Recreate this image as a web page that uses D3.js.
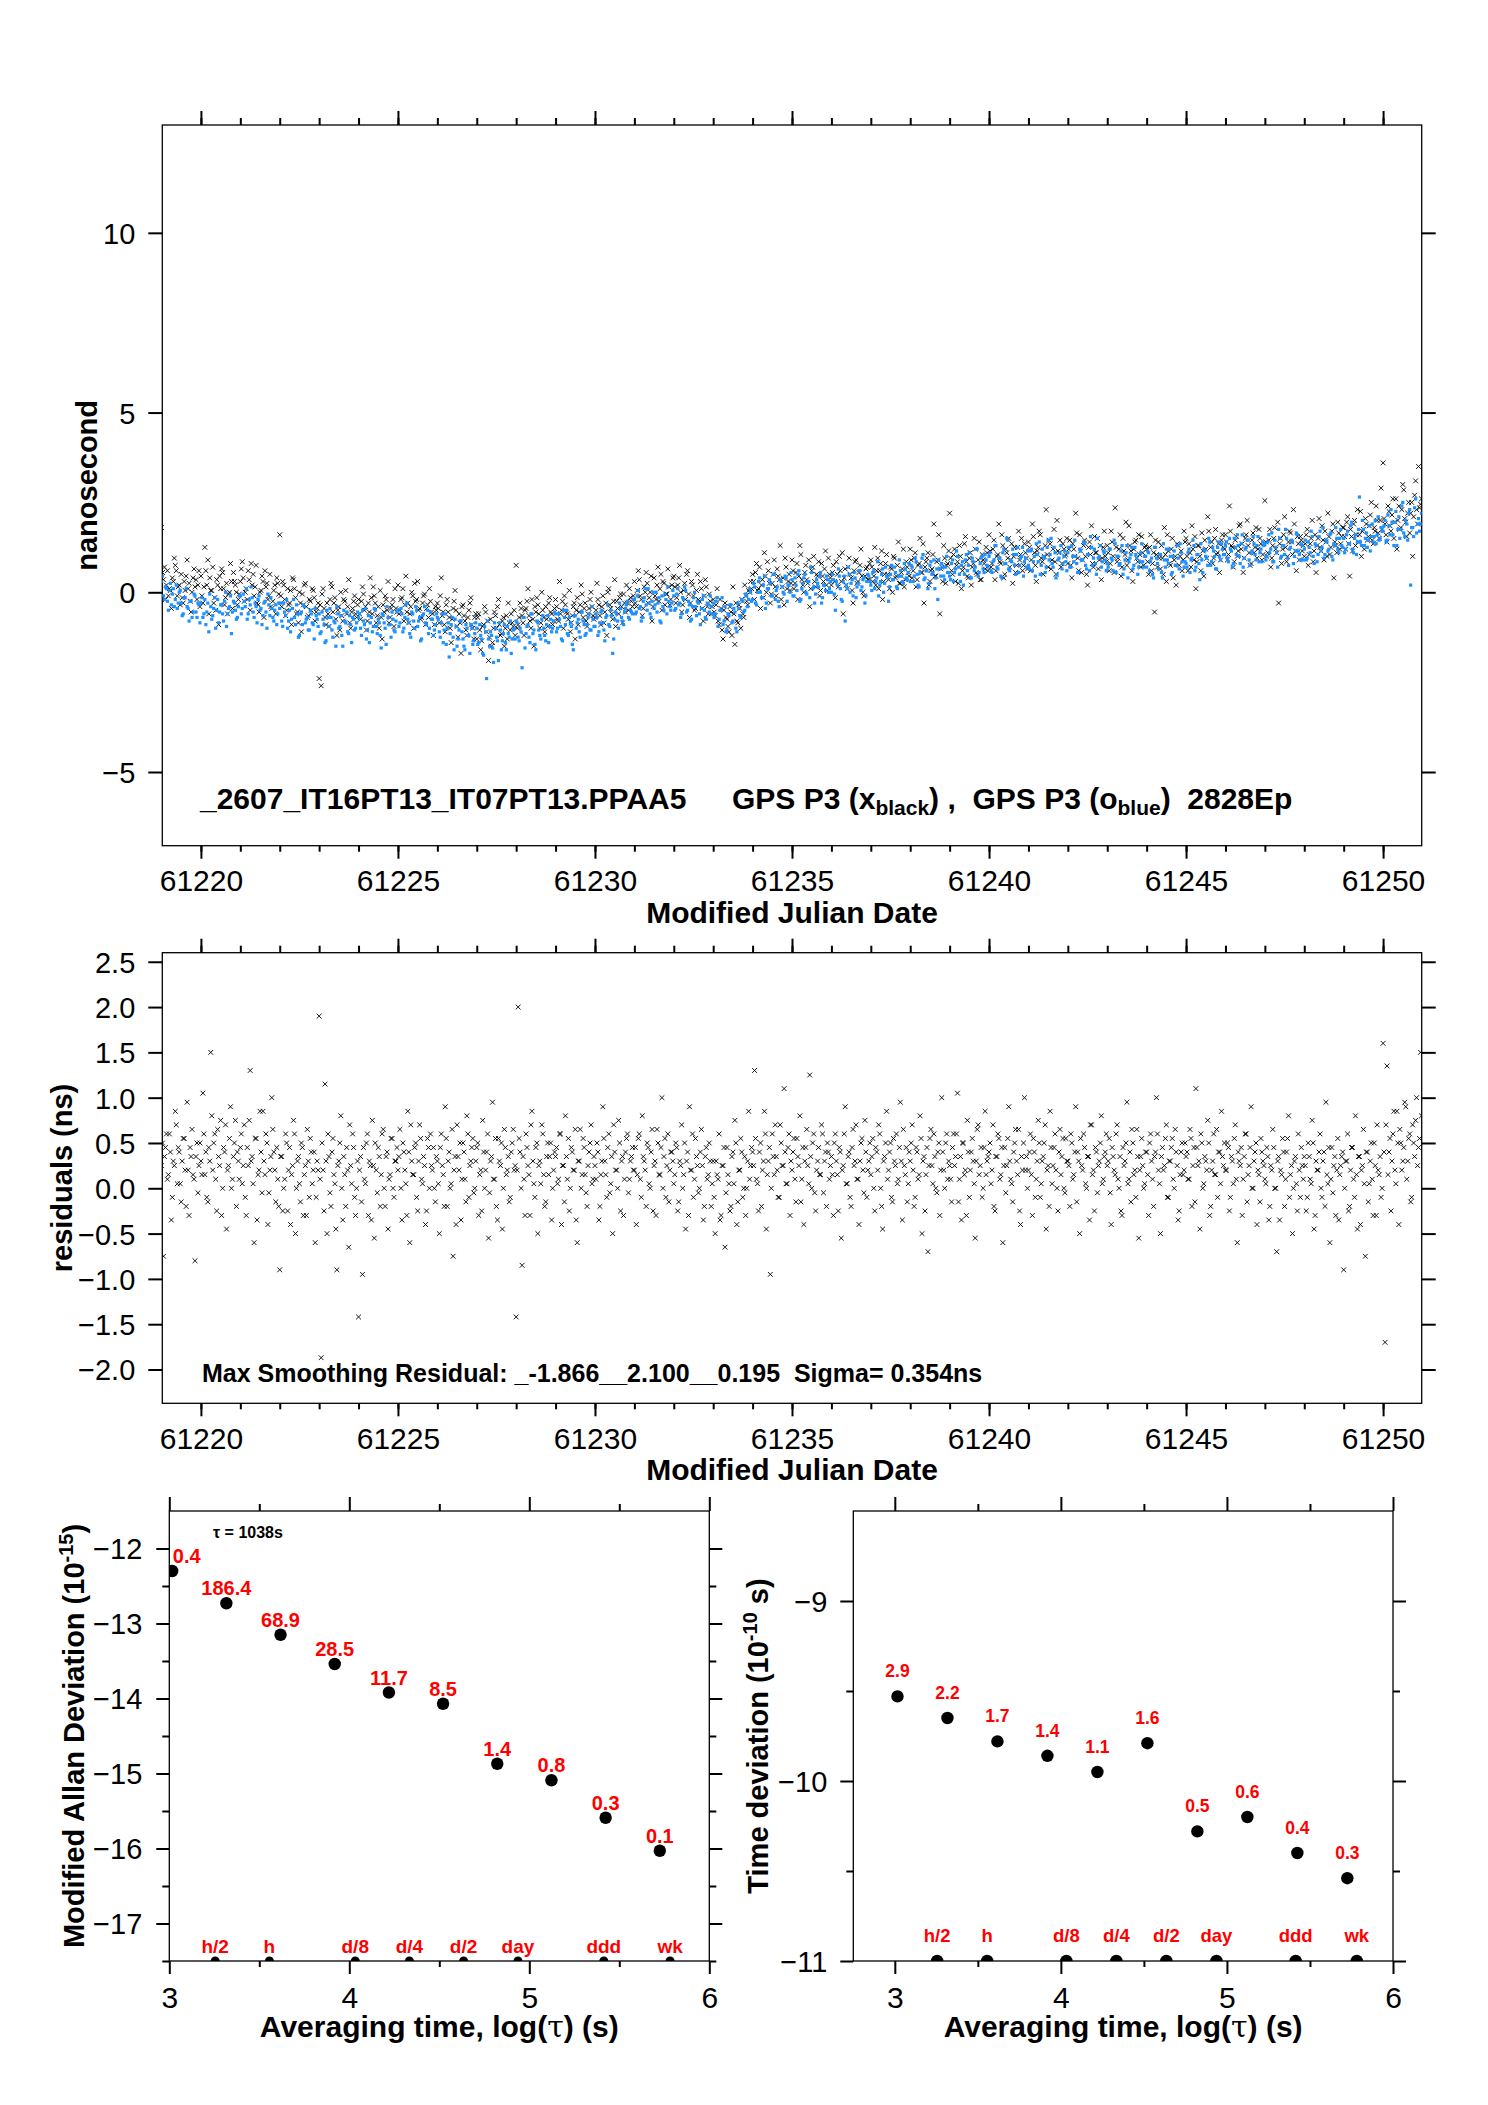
<!DOCTYPE html>
<html><head><meta charset="utf-8">
<script src="https://cdn.jsdelivr.net/npm/d3@7"></script>
<style>
body{margin:0;background:#fff;}
svg{display:block;font-family:"Liberation Sans",Arial,Helvetica,sans-serif;}
</style></head><body>
<svg id="chart" width="1488" height="2105"></svg>
<script>
// ---------------- DATA ----------------
// Sampling grids of the time series (MJD): two interleaved sets, 20 epochs per day each
const mjdStart = 61219.0;
const mjdMidStart = 61219.025;
const mjdStep = 0.05;

// GPS P3 (x, black) — nanoseconds, epochs on the first grid
const gpsBlack = [
1.8,0.35,-0.2,0.6,0.1,-0.45,0.3,0.75,-0.1,0.2,0.5,-0.3,0.05,0.9,0.25,-0.55,0.4,0.15,-0.2,0.6,
0.45,-0.3,1.25,0.2,-0.6,0.05,0.7,-0.15,0.35,-0.9,0.1,0.55,-0.35,0.25,-0.05,0.8,-0.45,0.3,0.0,-0.2,
0.3,0.85,-0.25,0.1,0.6,-0.5,0.2,-0.1,0.75,-0.35,0.0,0.45,-0.7,0.15,-0.2,0.5,-0.45,0.05,-0.6,0.25,
1.6,-0.4,0.2,-0.65,0.1,-0.3,-0.9,0.35,-0.15,-0.55,0.0,-1.1,-0.35,0.25,-0.7,-0.2,-0.5,0.05,-0.8,-0.45,
-2.4,-2.6,0.1,-0.7,-0.3,-0.95,0.25,-0.55,-0.15,-1.2,-0.4,0.0,-0.8,-0.25,-0.6,0.35,-1.0,-0.45,-0.1,-0.7,
-0.2,-0.75,0.15,-0.5,-1.05,-0.3,0.4,-0.6,-0.1,-0.85,-0.4,0.05,-1.3,-0.55,-0.2,0.3,-0.7,-0.35,-0.95,-0.45,
0.2,-0.5,-0.15,-0.8,0.45,-0.3,-0.6,0.0,-1.0,-0.25,0.3,-0.45,-0.7,-0.1,-0.9,-0.35,0.1,-0.55,-1.2,-0.4,
-0.3,-0.85,0.4,-0.55,-1.1,-0.2,-0.7,-1.4,-0.45,0.05,-0.95,-0.6,-1.7,-0.35,-0.8,-1.2,-0.5,-0.15,-1.0,-0.7,
-1.3,-0.6,-1.6,-0.95,-0.4,-1.1,-1.9,-0.75,-1.4,-0.55,-1.0,-0.2,-1.2,-0.8,-1.5,-0.65,-0.3,-1.05,-0.85,-0.5,
0.75,-0.9,-0.3,-0.65,-1.2,-0.45,0.1,-0.8,-0.2,-1.5,-0.55,-0.35,-1.0,0.0,-0.7,-0.4,-0.95,-0.15,-0.6,-0.8,
-0.2,-0.75,0.3,-0.5,-1.0,-0.35,-0.6,0.05,-0.85,-0.4,-1.3,-0.15,-0.55,0.2,-0.7,-0.3,-0.95,-0.45,0.0,-0.65,
-0.7,0.25,-0.35,-0.9,-0.1,-0.55,-1.2,0.1,-0.45,-0.75,0.35,-0.25,-0.6,-0.05,-0.85,-0.3,0.2,-0.5,-0.15,-0.4,
0.3,-0.4,0.6,-0.1,-0.65,0.15,0.55,-0.3,0.0,-0.8,0.4,-0.2,0.7,0.1,-0.5,0.25,-0.05,0.65,-0.35,0.2,
0.45,-0.3,0.2,0.75,-0.55,0.05,-0.2,0.6,-0.7,0.3,-0.1,-0.45,0.5,-0.25,0.1,-0.8,0.35,-0.4,-0.05,-0.6,
-0.2,-0.65,0.1,-0.9,-0.45,-1.3,-0.3,-0.75,-1.1,-0.55,0.15,-1.45,-0.8,-0.35,-1.0,-0.6,0.2,-0.25,0.05,0.3,
0.5,-0.2,0.8,0.1,-0.45,0.35,1.1,0.0,0.6,-0.3,0.25,0.9,-0.1,0.45,1.3,0.15,-0.35,0.7,0.3,0.05,
0.9,0.1,0.55,-0.2,1.3,0.35,0.0,0.75,0.25,-0.4,0.6,1.0,0.15,0.45,-0.1,0.8,0.3,1.15,0.05,0.5,
0.2,0.75,-0.15,0.5,1.0,0.3,-0.6,0.65,0.1,0.95,0.4,-0.3,0.85,0.25,0.55,1.2,0.0,0.45,0.7,0.35,
0.9,0.3,1.25,0.6,0.1,0.8,-0.2,0.5,1.05,0.35,0.7,0.0,0.95,0.45,1.4,0.25,0.65,0.15,0.85,0.55,
1.2,0.4,0.95,0.15,0.75,1.5,0.55,-0.3,0.85,1.1,0.3,0.65,1.9,0.45,0.9,-0.6,0.7,1.3,0.25,0.8,
2.2,0.6,1.05,0.3,0.85,1.3,0.1,0.7,1.55,0.45,0.95,0.2,0.8,1.2,0.5,1.4,0.35,0.9,0.65,1.1,
1.6,0.7,1.2,0.35,1.0,1.9,0.8,1.3,0.5,1.1,1.5,0.9,0.25,1.25,0.75,1.7,1.05,0.6,1.35,0.95,
1.4,0.6,1.9,1.1,0.3,1.25,1.6,0.85,1.0,2.3,0.7,1.35,0.9,1.75,0.5,1.15,1.45,0.8,1.2,1.05,
0.8,1.45,0.4,1.2,2.2,0.95,1.6,0.55,1.3,1.0,0.2,1.4,1.85,0.7,1.1,1.5,0.9,0.35,1.25,1.0,
1.3,0.6,1.7,1.0,2.35,0.85,1.2,0.45,1.5,1.05,0.75,1.85,1.15,0.3,1.4,0.95,1.6,0.7,1.1,1.25,
1.2,0.5,1.6,0.8,-0.55,1.05,1.4,0.65,0.95,1.8,0.3,1.15,0.75,1.5,0.9,0.2,1.3,1.0,0.6,1.7,
1.5,0.6,1.1,1.85,0.9,0.1,1.3,1.0,1.65,0.45,1.2,2.1,0.8,1.4,0.95,1.75,1.1,0.55,1.45,1.25,
1.6,0.9,2.4,1.3,0.7,1.45,1.0,1.85,1.2,0.55,1.5,2.0,1.1,0.8,1.65,1.25,0.95,1.75,1.35,1.05,
2.55,1.0,1.45,0.7,1.3,1.8,1.1,-0.3,1.5,1.2,2.1,0.85,1.4,1.65,1.05,1.9,0.6,1.35,1.55,1.15,
1.0,1.6,0.75,1.35,2.0,1.15,0.55,1.5,1.25,1.85,0.9,1.4,2.2,1.05,1.7,0.4,1.3,1.95,1.2,1.55,
1.8,1.2,2.1,0.45,1.55,1.9,1.3,2.3,1.6,1.0,1.75,2.05,1.45,1.85,2.5,1.35,1.7,2.0,1.5,2.9,
3.6,1.9,1.4,2.25,1.7,2.6,1.95,1.2,2.4,1.8,3.0,2.05,1.55,2.5,2.2,1.0,2.7,2.3,3.5,2.45
];
// GPS P3 (x, black) — epochs on the second (interleaved) grid
const gpsBlackMid = [
0.55,0.7,0.2,-0.1,0.05,0.4,0.95,0.6,0.15,-0.35,-0.15,0.3,0.45,0.1,-0.25,0.0,0.65,0.35,0.2,-0.4,
-0.1,0.15,0.6,0.9,0.4,0.05,-0.3,-0.5,0.2,0.45,0.65,0.1,-0.15,-0.6,0.0,0.3,0.55,0.2,-0.35,-0.05,
0.65,0.4,0.0,-0.2,0.35,0.8,0.5,0.15,-0.3,-0.55,0.05,0.3,0.6,0.25,-0.1,-0.4,-0.25,0.2,0.4,-0.05,
-0.1,0.3,-0.2,-0.5,-0.35,0.05,0.4,0.1,-0.6,-0.85,-0.3,-0.05,0.2,-0.4,-0.65,-0.25,0.1,-0.15,-0.55,-0.3,
-0.35,-0.05,-0.45,-0.9,-0.6,-0.2,0.15,-0.3,-0.75,-0.5,-1.05,-0.65,-0.2,0.05,-0.4,-0.85,-0.55,-0.25,-0.6,-0.35,
-0.6,-0.25,-0.05,-0.4,-0.8,-0.55,-0.15,0.15,-0.3,-0.65,-1.0,-0.7,-0.35,-0.1,-0.5,-0.85,-0.45,-0.2,0.1,-0.55,
-0.6,-0.2,0.1,-0.35,-0.55,-0.85,-0.4,-0.1,0.25,-0.2,-0.5,-0.75,-0.3,-0.05,-0.45,-0.7,-0.25,-0.6,-0.9,-0.5,
-0.45,-0.1,-0.65,-0.9,-0.35,-0.55,-1.0,-0.75,-0.25,-0.5,-1.25,-0.85,-0.4,-0.65,-1.05,-0.7,-0.3,-0.9,-1.3,-0.6,
-0.7,-1.05,-1.35,-0.9,-0.55,-0.8,-1.25,-1.5,-1.0,-0.65,-0.4,-0.9,-1.15,-0.7,-1.0,-1.3,-0.85,-0.6,-0.95,-1.2,
-1.0,-0.7,-0.45,-0.85,-0.5,-0.25,-0.65,-1.0,-0.75,-0.4,-0.15,-0.6,-0.85,-0.5,-1.1,-0.75,-0.3,-0.55,-0.9,-0.45,
-0.4,-0.8,-0.6,-0.25,-0.1,-0.55,-0.75,-1.1,-0.65,-0.3,-0.5,-0.9,-0.35,-0.05,-0.45,-0.8,-0.6,-0.2,-0.4,-0.75,
-0.5,-0.2,-0.65,-0.4,-0.85,-0.3,0.0,-0.35,-0.6,-0.25,-0.95,-0.45,-0.15,-0.4,-0.05,-0.55,-0.3,0.1,-0.25,-0.1,
-0.3,0.05,0.35,-0.2,-0.45,0.0,0.25,-0.15,0.45,-0.4,-0.1,0.2,-0.25,0.5,0.3,-0.35,-0.05,0.15,-0.2,0.4,
0.15,-0.15,0.4,0.0,-0.35,0.25,0.5,-0.05,-0.3,0.2,-0.5,0.05,-0.2,0.3,-0.45,-0.1,0.15,-0.6,-0.25,-0.4,
-0.55,-0.35,-0.8,-0.2,-1.05,-0.5,-0.7,-0.95,-0.4,-1.2,-0.6,-0.3,-0.85,-0.45,-0.2,-0.7,-0.1,-0.35,0.0,0.1,
0.3,0.55,0.05,0.7,0.2,-0.15,0.45,0.85,0.25,-0.05,0.5,0.15,0.65,0.35,-0.2,0.4,0.95,0.1,0.5,0.25,
0.6,0.25,0.8,0.45,1.05,0.2,0.55,0.35,0.9,0.1,0.7,0.3,0.5,0.85,0.05,0.45,0.65,0.2,0.95,0.4,
0.55,0.3,0.85,0.15,0.6,1.1,0.4,0.2,0.7,0.5,0.05,0.6,0.9,0.3,0.75,0.45,-0.1,0.65,0.35,0.8,
0.7,0.45,0.2,0.95,0.6,1.15,0.3,0.8,0.5,0.1,0.65,1.0,0.4,0.75,0.25,0.55,1.2,0.35,0.7,0.45,
0.9,0.6,1.1,0.35,0.8,0.55,1.35,0.7,0.95,0.2,0.6,1.05,0.45,0.85,1.6,0.65,0.3,0.95,0.75,1.15,
0.95,0.5,1.2,0.75,0.25,1.0,0.6,1.35,0.85,0.4,1.1,0.7,1.5,0.55,0.9,0.35,1.05,0.8,1.25,0.6,
1.15,0.8,1.45,0.6,1.05,0.85,1.6,0.4,1.2,0.95,0.7,1.35,1.0,0.55,1.25,0.9,1.5,0.75,1.1,0.65,
1.25,0.9,1.55,0.75,1.15,1.7,0.95,0.5,1.3,1.05,1.45,0.65,1.2,0.85,2.0,1.1,0.7,1.35,1.0,1.5,
1.2,0.75,1.35,1.0,1.65,0.6,1.15,0.9,1.45,0.5,1.25,1.05,0.8,1.55,1.1,0.65,1.3,0.95,1.7,0.85,
1.1,0.8,1.4,0.55,1.25,0.95,1.6,0.7,1.15,1.95,0.9,1.3,0.6,1.2,1.45,0.85,1.05,1.55,0.75,1.3,
0.85,1.25,0.6,1.1,1.45,0.7,0.95,1.3,0.5,1.05,1.6,0.8,1.2,0.4,1.0,1.35,0.75,1.15,0.9,1.4,
1.0,1.35,0.7,1.2,1.55,0.85,1.3,0.6,1.15,1.45,0.95,1.7,1.25,0.8,1.5,1.05,1.35,0.9,1.6,1.2,
1.4,1.05,1.7,1.25,0.85,1.55,1.15,1.9,1.35,0.95,1.6,1.3,0.75,1.45,1.1,1.8,1.2,1.5,0.9,1.35,
1.4,1.1,1.75,0.95,1.5,1.2,1.95,1.35,0.8,1.6,1.25,1.0,1.7,1.4,2.3,1.15,1.55,0.9,1.45,1.3,
1.35,1.75,1.05,1.5,0.85,1.6,1.3,2.05,1.15,1.45,1.7,1.0,1.55,1.25,1.9,1.4,1.1,1.65,1.35,1.8,
1.55,1.95,1.35,1.75,1.15,2.0,1.6,1.4,2.25,1.7,1.2,1.9,1.55,2.15,1.45,1.8,2.4,1.65,2.0,1.75,
2.05,1.6,2.4,1.85,2.15,1.5,2.6,2.0,1.75,2.3,2.85,1.95,2.2,1.65,2.5,2.1,3.1,1.9,2.35,2.6
];

// GPS P3 (o, blue) — nanoseconds, first grid
const gpsBlue = [
0.3,-0.1,0.15,-0.25,0.05,-0.35,0.1,-0.2,-0.45,0.0,-0.3,-0.6,-0.15,-0.4,-0.8,-0.25,-0.55,-0.1,-0.7,-0.35,
-0.3,-0.7,-0.2,-0.55,-1.1,-0.4,-0.65,-0.15,-0.5,-0.85,-0.35,-0.6,-0.25,-0.95,-0.45,-0.1,-0.55,-0.3,-0.75,-0.4,
-0.1,-0.45,-0.25,0.1,-0.6,-0.35,-0.15,-0.7,-0.4,-0.2,-0.5,-0.9,-0.3,-0.55,-0.05,-0.65,-0.45,-0.8,-0.35,-0.6,
-0.45,-0.8,-0.3,-0.65,-1.0,-0.5,-0.75,-0.2,-0.9,-0.6,-1.2,-0.55,-0.35,-0.85,-0.7,-1.05,-0.6,-0.9,-0.45,-0.75,
-0.6,-1.1,-0.75,-1.4,-0.5,-0.95,-0.7,-1.25,-0.85,-0.4,-1.0,-0.65,-1.5,-0.8,-0.55,-1.15,-0.9,-0.7,-1.05,-0.85,
-0.7,-1.0,-0.5,-0.9,-1.3,-0.65,-0.85,-1.1,-0.45,-0.95,-0.75,-1.2,-0.6,-0.85,-1.45,-0.7,-0.9,-0.55,-1.05,-0.8,
-0.5,-0.85,-0.6,-1.0,-0.35,-0.75,-1.15,-0.55,-0.8,-0.4,-0.95,-0.7,-1.3,-0.6,-0.85,-0.5,-1.0,-0.75,-1.2,-0.9,
-0.7,-1.1,-0.85,-1.4,-0.6,-1.0,-1.8,-0.9,-1.25,-0.75,-1.5,-1.05,-0.8,-1.3,-1.6,-1.0,-1.2,-0.9,-1.45,-1.15,
-1.0,-1.4,-1.2,-1.7,-0.95,-2.4,-1.3,-1.1,-1.55,-0.85,-1.25,-1.9,-1.05,-1.35,-0.9,-1.6,-1.15,-0.8,-1.3,-1.0,
-0.8,-1.25,-1.0,-2.1,-0.7,-1.15,-0.9,-1.4,-0.6,-1.05,-1.6,-0.85,-1.2,-0.75,-1.0,-1.35,-0.65,-0.95,-1.1,-0.8,
-0.6,-1.0,-0.75,-1.3,-0.5,-0.9,-1.15,-0.7,-0.95,-1.6,-0.65,-0.85,-1.1,-0.55,-0.8,-1.2,-0.9,-0.6,-1.05,-0.75,
-0.95,-0.7,-1.1,-0.55,-0.85,-1.35,-0.65,-0.9,-0.5,-1.7,-0.75,-0.6,-1.0,-0.45,-0.8,-0.55,-0.35,-0.7,-0.5,-0.6,
-0.2,-0.55,0.05,-0.4,-0.7,-0.15,-0.35,0.1,-0.6,-0.25,-0.45,0.0,-0.3,-0.8,-0.1,-0.5,-0.2,0.15,-0.4,-0.3,
-0.1,-0.45,0.1,-0.3,-0.6,-0.2,0.05,-0.5,-0.35,-0.75,-0.15,-0.4,-0.25,-0.6,-0.45,-0.1,-0.7,-0.3,-0.55,-0.4,
-0.3,-0.6,-0.15,-0.75,-0.5,-0.9,-0.4,-1.05,-0.65,-0.35,-0.8,-0.55,-1.1,-0.45,-0.7,-0.25,-0.5,-0.1,-0.2,0.0,
-0.2,0.15,-0.35,0.3,0.0,-0.15,0.45,-0.3,0.1,0.25,-0.1,0.5,0.05,-0.25,0.35,0.15,-0.05,0.4,0.2,0.0,
0.35,-0.1,0.2,0.5,-0.25,0.1,0.4,0.0,0.3,-0.15,0.55,0.15,-0.05,0.25,0.45,-0.3,0.2,0.05,0.35,0.1,
0.0,0.35,-0.5,0.2,0.45,-0.2,0.3,-0.8,0.1,0.5,0.25,-0.1,0.4,0.15,0.6,0.05,0.35,-0.3,0.3,0.45,
0.2,0.55,0.1,0.4,-0.1,0.3,0.65,0.25,0.45,-0.25,0.5,0.35,0.7,0.15,0.45,0.6,0.3,0.8,0.4,0.55,
0.3,0.7,0.45,0.85,0.2,0.55,0.95,0.35,0.6,0.1,0.75,0.5,0.9,0.4,-0.2,0.65,0.8,0.45,0.7,0.55,
0.45,0.8,0.3,0.65,1.0,0.5,0.75,0.2,0.9,0.6,1.1,0.4,0.85,0.7,1.2,0.55,0.95,0.65,1.05,0.75,
1.0,0.6,0.85,1.3,0.7,0.95,0.45,1.1,0.8,1.5,0.65,0.9,1.2,0.75,1.05,0.55,0.95,1.25,0.85,0.7,
0.75,1.15,0.6,1.0,1.35,0.85,0.5,1.2,0.95,0.7,1.45,1.05,0.8,1.25,0.4,0.9,1.1,0.65,1.0,0.85,
1.1,0.7,1.3,0.85,1.0,0.55,1.2,0.9,1.4,0.75,1.05,0.6,1.25,0.95,0.8,1.5,1.0,0.7,1.15,0.9,
0.8,1.2,0.95,0.6,1.35,1.0,0.75,1.15,0.5,0.9,1.3,0.85,1.05,0.65,1.25,0.95,0.7,1.1,0.85,1.0,
0.7,1.1,0.85,0.5,1.25,0.95,0.65,1.05,0.4,0.9,1.2,0.8,1.0,0.55,1.15,0.75,0.95,1.35,0.85,0.7,
0.8,1.1,0.55,0.95,1.3,0.7,1.05,0.35,0.9,1.2,1.0,0.75,1.4,0.85,1.15,0.65,1.25,1.0,1.35,1.05,
1.3,0.95,1.5,1.15,0.8,1.25,1.6,1.0,1.35,0.7,1.2,1.45,0.9,1.1,1.55,1.05,1.3,0.85,1.2,1.4,
1.35,1.0,1.6,1.2,0.85,1.45,1.1,1.75,0.95,1.3,1.05,1.5,0.75,1.25,1.4,1.0,1.65,1.15,0.9,1.3,
1.2,0.9,1.4,1.1,1.55,0.8,1.3,1.05,1.7,1.25,0.95,1.45,1.15,1.6,1.0,1.35,1.8,1.2,1.5,1.3,
1.5,1.2,1.7,1.35,1.95,1.1,1.6,1.4,2.65,1.3,1.75,1.5,1.25,1.85,1.55,1.4,2.0,1.6,1.45,1.8,
1.7,2.0,1.45,1.85,2.3,1.6,1.95,1.3,2.1,1.75,2.5,1.55,1.9,2.2,0.2,1.8,2.35,1.65,2.05,1.9
];
// GPS P3 (o, blue) — second grid
const gpsBlueMid = [
0.45,-0.2,0.1,-0.5,0.25,-0.05,-0.4,0.2,-0.3,0.05,-0.65,-0.15,0.1,-0.45,-0.25,-0.7,-0.05,-0.55,-0.3,-0.85,
-0.15,-0.6,-0.9,-0.3,-0.05,-0.75,-0.45,-1.0,-0.2,-0.55,-0.35,-0.8,0.0,-0.6,-0.4,-1.15,-0.25,-0.5,-0.7,-0.1,
-0.6,-0.05,-0.4,-0.75,-0.2,0.15,-0.55,-0.3,-0.85,-0.1,-0.45,-0.65,-0.25,-1.0,-0.35,-0.15,-0.7,-0.5,-0.9,-0.3,
-0.3,-0.95,-0.55,-0.2,-0.8,-1.1,-0.45,-0.7,-0.35,-1.25,-0.6,-0.9,-0.4,-0.75,-1.05,-0.5,-0.85,-1.3,-0.65,-0.95,
-1.15,-0.55,-0.9,-1.35,-0.7,-0.45,-1.05,-0.8,-1.5,-0.6,-0.95,-1.2,-0.5,-0.85,-1.1,-0.65,-1.4,-0.75,-1.0,-0.55,
-0.6,-1.2,-0.8,-0.45,-1.05,-1.4,-0.7,-0.95,-0.5,-1.15,-0.85,-1.55,-0.65,-1.0,-0.4,-0.9,-1.25,-0.75,-1.1,-0.55,
-0.95,-0.45,-1.1,-0.7,-0.3,-0.85,-1.25,-0.6,-1.0,-0.5,-0.8,-1.35,-0.65,-0.4,-0.9,-1.15,-0.55,-0.75,-1.05,-0.6,
-0.75,-1.25,-0.6,-1.05,-1.45,-0.85,-1.15,-0.7,-1.6,-0.95,-1.3,-0.8,-1.1,-1.5,-0.9,-1.2,-1.7,-1.0,-1.35,-0.85,
-1.45,-0.9,-1.3,-1.75,-1.1,-0.8,-1.5,-1.2,-1.95,-1.0,-1.35,-0.85,-1.6,-1.15,-1.4,-0.95,-1.25,-1.7,-1.05,-1.3,
-0.85,-1.35,-1.1,-0.7,-1.55,-0.95,-1.25,-0.6,-1.15,-1.45,-0.8,-1.05,-1.3,-0.65,-1.2,-0.9,-1.4,-0.75,-1.0,-0.55,
-1.1,-0.6,-0.95,-1.35,-0.7,-0.5,-1.2,-0.85,-1.45,-0.65,-1.0,-0.75,-1.25,-0.55,-0.9,-1.15,-0.7,-1.05,-0.4,-0.95,
-0.6,-1.2,-0.85,-0.5,-1.05,-0.7,-0.35,-0.95,-0.65,-1.3,-0.55,-0.8,-0.3,-0.7,-0.9,-0.45,-0.25,-0.75,-0.55,-0.2,
-0.6,-0.1,-0.45,-0.8,-0.25,0.1,-0.5,-0.3,-0.7,0.0,-0.35,-0.55,-0.15,-0.85,-0.4,-0.05,-0.6,-0.25,-0.5,0.05,
-0.5,-0.05,-0.35,-0.7,-0.15,0.15,-0.55,-0.25,-0.8,-0.4,0.0,-0.65,-0.3,-0.9,-0.2,-0.5,-0.75,-0.35,-0.1,-0.6,
-0.7,-0.25,-0.95,-0.5,-0.15,-0.8,-1.1,-0.6,-0.35,-0.85,-0.45,-1.0,-0.3,-0.65,-0.2,-0.55,-0.05,-0.4,0.1,-0.25,
0.25,-0.3,0.0,0.4,-0.15,0.2,-0.45,0.1,0.35,-0.1,0.5,-0.2,0.15,-0.4,0.3,0.0,0.45,-0.25,0.2,0.55,
-0.1,0.4,0.05,0.6,-0.2,0.25,0.5,-0.05,0.3,0.7,0.1,-0.3,0.35,0.15,0.55,-0.15,0.2,0.45,0.0,0.3,
0.5,-0.05,0.3,0.65,0.1,-0.25,0.45,0.2,0.7,0.0,0.35,0.55,-0.15,0.25,0.6,0.15,0.4,-0.1,0.5,0.3,
0.05,0.6,0.3,0.85,0.2,0.5,0.0,0.7,0.4,0.15,0.75,0.35,0.55,0.1,0.9,0.45,0.25,0.65,0.35,0.8,
0.75,0.3,0.95,0.5,0.15,0.7,1.05,0.4,0.6,0.25,0.85,0.55,0.1,0.65,0.9,0.45,0.7,0.35,1.0,0.55,
0.35,0.9,0.55,1.15,0.7,0.3,0.85,0.5,1.05,0.75,0.4,0.95,0.6,1.2,0.45,0.8,1.0,0.55,0.9,0.7,
1.1,0.55,0.9,1.3,0.65,0.95,0.4,1.2,0.8,1.45,0.6,0.85,1.05,0.5,1.25,0.75,1.0,0.45,0.95,1.15,
0.65,1.2,0.85,0.45,1.05,1.4,0.75,1.0,0.55,1.25,0.9,1.5,0.7,1.1,0.5,0.95,1.3,0.8,1.15,0.6,
1.25,0.7,1.0,1.45,0.8,0.55,1.15,0.9,1.35,0.65,1.05,1.55,0.75,1.2,0.5,0.95,1.3,0.85,1.1,0.6,
0.7,1.2,0.9,1.45,0.55,1.0,0.8,1.3,0.65,1.1,0.4,0.95,1.25,0.75,1.05,0.5,0.85,1.35,0.7,1.0,
1.15,0.6,0.95,0.4,1.25,0.8,1.05,0.55,1.35,0.7,0.9,1.2,0.5,1.0,0.75,1.3,0.65,1.1,0.45,0.85,
0.7,1.2,0.9,1.45,0.6,1.05,0.8,1.35,0.55,1.15,0.95,1.5,0.75,1.25,1.0,0.65,1.4,0.9,1.2,1.05,
1.4,0.85,1.2,0.7,1.5,1.05,1.3,0.8,1.6,0.95,1.25,1.45,0.75,1.15,1.35,0.9,1.55,1.1,0.85,1.3,
0.9,1.4,1.1,1.65,0.85,1.25,0.7,1.5,1.0,1.3,1.75,0.95,1.2,1.45,0.8,1.15,1.6,1.05,1.35,0.9,
1.45,0.95,1.25,1.7,1.0,1.35,0.85,1.55,1.15,1.8,1.05,1.4,1.2,1.65,0.9,1.3,1.5,1.1,1.75,1.25,
1.1,1.6,1.35,1.85,1.2,1.5,1.05,1.75,1.4,2.0,1.3,1.65,1.45,1.15,1.9,1.55,1.35,2.1,1.5,1.7,
1.85,1.4,2.15,1.6,1.95,1.3,2.25,1.75,1.5,2.4,1.65,2.0,1.45,2.3,1.8,1.55,2.6,1.9,1.7,2.2
];

// Smoothing residuals — nanoseconds, first grid
const residuals = [
0.25,-0.75,0.45,0.1,0.6,-0.35,0.3,0.85,0.05,0.4,-0.15,0.55,0.2,0.95,-0.3,0.35,0.15,-0.8,0.5,0.25,
0.3,1.05,0.15,-0.1,0.45,1.5,0.2,0.6,-0.25,0.35,0.75,0.0,0.4,-0.45,0.25,0.9,0.1,0.5,-0.2,0.3,
0.45,0.05,0.7,-0.3,0.25,1.3,0.35,-0.6,0.55,0.15,0.85,-0.05,0.3,0.6,-0.4,0.2,1.0,0.4,-0.15,0.1,
-0.9,0.35,0.0,0.6,-0.25,0.45,0.15,0.75,-0.5,0.3,0.05,0.5,-0.3,0.25,0.65,-0.1,0.4,0.2,-0.6,0.3,
1.9,-1.87,0.2,1.15,-0.5,0.35,-0.2,0.55,0.05,-0.9,0.3,0.8,-0.35,0.15,0.45,-0.65,0.25,0.6,-0.1,0.0,
-1.42,0.35,-0.95,0.1,0.5,-0.3,0.25,0.75,-0.55,0.2,0.45,-0.2,0.6,0.0,0.35,-0.45,0.15,0.55,-0.1,0.3,
0.2,0.65,-0.35,0.4,0.05,0.85,-0.6,0.3,0.15,0.5,-0.25,0.7,0.1,0.35,-0.4,0.55,0.0,0.25,0.45,-0.15,
0.3,-0.5,0.6,0.15,0.9,-0.2,0.4,0.05,-0.75,0.35,0.7,0.2,-0.35,0.5,0.1,0.8,-0.1,0.3,0.55,0.0,
0.45,-0.3,0.2,0.75,0.0,0.4,-0.55,0.3,0.95,0.1,-0.2,0.55,0.25,-0.45,0.65,0.15,0.35,-0.1,0.5,0.2,
-1.42,2.0,0.4,-0.85,0.1,0.6,0.25,-0.3,0.85,0.05,0.45,-0.5,0.3,0.7,0.15,-0.15,0.5,0.35,-0.35,0.2,
0.35,0.05,0.6,-0.4,0.25,0.8,0.1,-0.25,0.45,0.2,0.65,-0.6,0.3,0.0,0.55,0.15,-0.2,0.4,0.7,0.1,
0.25,0.5,-0.35,0.15,0.9,0.3,-0.1,0.6,0.05,-0.5,0.4,0.2,0.75,-0.25,0.35,0.1,0.55,-0.05,0.3,0.45,
0.2,-0.4,0.55,0.1,0.8,0.3,-0.2,0.45,0.0,0.65,0.25,-0.3,0.5,0.15,1.0,0.35,-0.1,0.6,0.2,0.4,
0.05,0.5,-0.25,0.3,0.7,0.15,-0.45,0.4,0.9,0.2,-0.1,0.55,0.25,0.0,0.65,-0.35,0.35,0.1,0.5,-0.2,
0.3,-0.5,0.15,0.6,-0.3,0.25,-0.65,0.45,0.05,-0.2,0.4,0.75,-0.4,0.2,0.55,-0.1,0.35,0.0,0.85,0.25,
0.4,1.3,0.1,-0.25,0.5,0.2,0.85,-0.45,0.3,-0.95,0.6,0.15,0.35,-0.1,0.7,0.25,1.1,0.05,0.45,-0.3,
0.2,0.55,-0.15,0.35,0.8,0.1,-0.4,0.45,0.25,1.25,0.0,0.6,-0.25,0.3,0.15,0.7,-0.05,0.4,0.5,0.1,
0.35,-0.3,0.6,0.15,0.45,-0.55,0.25,0.9,0.05,0.4,-0.2,0.65,0.3,0.1,-0.4,0.5,0.2,0.75,-0.1,0.3,
0.15,0.55,-0.25,0.4,0.7,0.0,-0.45,0.35,0.85,0.2,0.5,-0.15,0.3,0.6,0.1,0.95,-0.35,0.25,0.45,0.05,
0.3,0.7,-0.2,0.45,0.1,0.8,-0.5,0.35,0.15,-0.7,0.55,0.25,0.6,0.0,0.4,-0.3,1.0,0.2,0.5,0.1,
0.25,-0.15,0.6,0.35,1.05,0.1,-0.35,0.5,0.2,0.75,-0.1,0.4,0.3,-0.55,0.65,0.15,0.45,0.0,0.85,0.3,
0.4,0.05,0.7,-0.25,0.35,0.55,0.15,-0.6,0.45,0.25,0.9,0.1,-0.15,0.5,0.3,0.65,-0.4,0.2,1.0,0.35,
0.2,0.6,-0.3,0.4,0.1,0.75,-0.1,0.3,0.5,-0.45,0.25,0.85,0.05,0.45,0.2,-0.25,0.65,0.35,0.0,0.55,
0.3,-0.2,0.5,0.15,0.9,0.4,-0.5,0.25,0.6,0.05,0.35,-0.35,0.7,0.2,0.45,-0.05,0.3,0.8,0.1,0.4,
0.25,0.55,-0.4,0.35,0.15,0.7,0.0,-0.25,0.45,0.3,0.95,0.1,-0.15,0.5,0.2,0.65,-0.55,0.35,0.25,0.05,
0.4,-0.3,0.6,0.1,0.35,1.0,0.2,-0.5,0.45,0.25,0.7,-0.1,0.3,0.55,0.0,0.4,-0.35,0.15,0.5,0.2,
0.35,0.1,0.65,-0.2,0.45,1.1,0.25,-0.45,0.5,0.05,0.3,0.75,-0.3,0.2,0.6,0.15,-0.1,0.4,0.85,0.25,
0.2,0.5,-0.25,0.35,0.05,0.7,-0.6,0.3,0.45,0.1,0.6,-0.15,0.25,0.9,0.0,0.4,-0.4,0.15,0.55,0.3,
0.1,0.45,-0.35,0.25,0.65,0.0,-0.7,0.35,0.2,0.55,-0.2,0.4,0.8,0.15,-0.5,0.3,0.05,0.6,-0.1,0.25,
0.35,-0.25,0.5,0.1,0.75,-0.45,0.3,0.2,0.6,-0.1,0.4,0.95,0.05,-0.6,0.45,0.25,-0.3,0.55,0.15,0.35,
-0.9,0.3,0.6,-0.2,0.45,0.1,0.8,-0.45,0.35,0.2,0.65,-0.75,0.4,0.05,0.5,-0.3,0.25,0.7,0.15,-0.1,
1.6,-1.7,1.35,0.4,-0.25,0.6,0.2,0.85,-0.4,0.5,0.3,0.95,0.1,0.55,-0.15,0.7,0.35,1.0,0.45,1.5
];
// Smoothing residuals — second grid
const residualsMid = [
0.5,0.35,0.6,0.15,0.4,-0.1,0.25,0.7,0.45,0.05,0.3,0.55,-0.2,0.2,0.45,0.65,0.1,0.35,-0.05,0.5,
0.15,0.6,0.4,-0.15,0.3,0.8,0.5,0.1,0.65,0.25,-0.3,0.45,0.7,0.2,0.55,0.0,0.35,0.75,0.4,0.1,
0.6,0.25,-0.1,0.45,0.75,0.3,0.05,0.55,-0.35,0.2,0.4,0.85,0.15,0.5,-0.05,0.35,0.65,0.2,0.45,-0.2,
0.35,-0.25,0.1,0.5,0.2,-0.4,0.25,0.6,0.0,0.35,-0.15,0.45,0.15,-0.3,0.3,0.55,0.05,0.4,-0.1,0.2,
0.1,0.5,-0.25,0.3,0.6,-0.05,0.4,0.15,-0.45,0.25,0.5,0.0,0.35,-0.2,0.2,0.7,0.05,0.45,-0.3,0.3,
0.2,-0.15,0.45,0.05,0.6,0.3,-0.35,0.25,0.5,-0.05,0.35,0.15,0.65,-0.2,0.4,0.1,0.55,0.0,0.3,0.45,
0.35,0.0,0.5,0.2,-0.3,0.4,0.7,0.15,0.45,-0.1,0.3,0.55,0.05,0.25,-0.25,0.45,0.6,0.2,0.0,0.35,
0.05,0.45,0.25,-0.2,0.55,0.3,0.0,0.65,0.2,-0.4,0.35,0.5,0.1,0.4,-0.15,0.6,0.25,0.45,-0.05,0.3,
0.5,0.15,-0.25,0.4,0.2,0.6,-0.05,0.35,0.1,0.55,-0.35,0.3,0.5,0.0,0.45,0.2,-0.15,0.4,0.65,0.25,
0.2,0.55,0.0,0.35,-0.3,0.45,0.15,0.7,0.3,-0.1,0.5,0.25,0.05,0.6,-0.2,0.35,0.15,0.5,0.0,0.4,
0.45,0.1,0.6,0.25,-0.15,0.35,0.55,0.0,0.4,0.2,-0.35,0.3,0.65,0.15,0.45,-0.05,0.25,0.5,0.05,0.35,
0.1,0.4,-0.2,0.3,0.55,0.15,0.45,-0.05,0.35,0.7,0.2,0.0,0.5,0.3,-0.3,0.4,0.6,0.1,0.35,0.2,
0.45,0.15,0.6,-0.1,0.35,0.2,0.5,0.05,0.4,-0.25,0.3,0.65,0.15,0.45,0.0,0.55,0.25,-0.15,0.4,0.3,
0.15,0.45,-0.15,0.25,0.0,0.5,0.3,-0.3,0.2,0.6,0.1,0.35,-0.05,0.4,0.25,-0.2,0.45,0.15,0.3,0.05,
-0.1,0.3,0.1,-0.35,0.25,0.45,-0.05,0.15,-0.25,0.35,0.05,0.5,-0.15,0.2,0.4,0.0,-0.3,0.3,0.1,0.45,
0.25,0.55,0.05,0.4,-0.2,0.3,0.6,0.15,0.45,0.0,0.35,0.7,0.2,-0.1,0.5,0.25,0.4,0.05,0.6,0.3,
0.4,0.1,0.55,0.25,-0.15,0.45,0.3,0.65,0.05,0.35,0.5,-0.05,0.2,0.45,0.15,0.6,0.3,-0.2,0.4,0.25,
0.15,0.5,0.3,-0.25,0.4,0.2,0.6,0.05,0.35,-0.1,0.45,0.25,0.7,0.1,0.3,0.55,-0.05,0.4,0.2,0.5,
0.35,0.0,0.45,0.2,0.6,-0.2,0.3,0.5,0.1,0.4,-0.1,0.55,0.25,0.05,0.45,0.3,0.65,0.15,-0.15,0.4,
0.5,0.2,-0.1,0.4,0.15,0.55,0.3,-0.25,0.45,0.25,0.65,0.05,0.35,-0.05,0.5,0.2,0.4,0.0,0.6,0.3,
0.1,0.45,0.25,0.6,-0.15,0.35,0.5,0.15,-0.3,0.4,0.2,0.55,0.05,0.3,0.7,0.25,-0.1,0.45,0.15,0.35,
0.5,0.2,-0.2,0.35,0.6,0.1,0.45,0.25,-0.05,0.55,0.3,0.05,0.4,0.65,0.15,-0.25,0.35,0.5,0.2,0.0,
0.4,0.15,0.55,-0.1,0.3,0.5,0.05,0.35,0.7,0.2,-0.2,0.45,0.25,0.6,0.0,0.4,0.15,0.55,-0.05,0.3,
0.25,0.6,0.1,0.4,-0.15,0.3,0.55,0.2,0.45,0.0,0.35,0.7,0.15,-0.25,0.4,0.25,0.5,0.05,0.35,0.6,
0.3,-0.05,0.45,0.2,0.6,0.1,0.35,-0.3,0.25,0.5,0.05,0.4,0.65,0.15,-0.1,0.35,0.2,0.55,0.0,0.4,
0.15,0.5,0.3,-0.2,0.4,0.6,0.05,0.35,0.2,0.55,-0.1,0.3,0.45,0.1,0.65,0.25,-0.25,0.4,0.15,0.5,
0.4,0.1,0.55,0.25,-0.15,0.45,0.3,0.6,0.0,0.35,0.2,0.5,-0.2,0.3,0.15,0.65,0.4,0.05,0.35,0.5,
0.2,0.45,-0.1,0.3,0.55,0.1,0.4,0.25,-0.3,0.35,0.6,0.15,0.45,0.0,0.3,0.5,0.2,-0.15,0.4,0.25,
0.05,0.35,-0.2,0.2,0.45,0.0,0.3,-0.35,0.15,0.4,0.1,0.55,-0.1,0.25,0.0,0.35,-0.25,0.2,0.45,0.1,
0.25,-0.1,0.35,0.05,0.5,-0.3,0.2,0.4,0.0,0.3,-0.2,0.15,0.45,0.1,-0.05,0.35,0.2,-0.35,0.25,0.4,
0.0,0.3,-0.25,0.2,0.45,-0.1,0.15,0.35,-0.4,0.25,0.05,0.4,-0.15,0.3,0.1,0.5,-0.3,0.2,0.35,0.0,
0.4,0.7,0.15,0.55,0.3,0.85,0.05,0.5,0.65,0.2,0.45,0.9,0.3,0.6,-0.1,0.5,0.75,0.25,0.55,0.8
];

// Stability panels
const logTau = [3.016, 3.317, 3.618, 3.919, 4.220, 4.521, 4.822, 5.123, 5.424, 5.725];
const madev = [-12.30, -12.73, -13.15, -13.54, -13.92, -14.07, -14.87, -15.09, -15.59, -16.03];
const madevLabels = ["0.4","186.4","68.9","28.5","11.7","8.5","1.4","0.8","0.3","0.1"];
const tdev = [-9.53, -9.65, -9.78, -9.86, -9.95, -9.79, -10.28, -10.20, -10.40, -10.54];
const tdevLabels = ["2.9","2.2","1.7","1.4","1.1","1.6","0.5","0.6","0.4","0.3"];
const markerNames = ["h/2","h","d/8","d/4","d/2","day","ddd","wk"];
const markerLogTau = [3.255, 3.556, 4.033, 4.334, 4.635, 4.937, 5.414, 5.782];

// Tick values
const mjdMajor = [61220, 61225, 61230, 61235, 61240, 61245, 61250];
const mjdMinor = [61220,61221,61222,61223,61224,61225,61226,61227,61228,61229,61230,61231,61232,61233,61234,61235,
  61236,61237,61238,61239,61240,61241,61242,61243,61244,61245,61246,61247,61248,61249,61250];
const nsTicks = [-5, 0, 5, 10];
const resTicks = [-2.0, -1.5, -1.0, -0.5, 0.0, 0.5, 1.0, 1.5, 2.0, 2.5];
const tauMajor = [3, 4, 5, 6];
const tauMinor = [3.5, 4.5, 5.5];
const adevMajor = [-17, -16, -15, -14, -13, -12];
const adevMinor = [-17.5, -16.5, -15.5, -14.5, -13.5, -12.5];
const tdevMajor = [-11, -10, -9];
const tdevMinor = [-10.5, -9.5];

// ---------------- DRAW ----------------
const svg = d3.select("#chart");
const FONT = '"Liberation Sans",Arial,Helvetica,sans-serif';
const mjdA = gpsBlack.map((_, i) => mjdStart + i * mjdStep);
const mjdB = gpsBlackMid.map((_, i) => mjdMidStart + i * mjdStep);

const P1 = {l:162.3, r:1421.7, t:125, b:845.7};
const P2 = {l:162.3, r:1421.7, t:952.7, b:1403.3};
const P3 = {l:169.3, r:709.3, t:1511, b:1961};
const P4 = {l:853.3, r:1393, t:1511, b:1961};

const xTime = d3.scaleLinear([61219.02, 61250.98], [P1.l, P1.r]);
const yTop = d3.scaleLinear([-7.05, 13.0], [P1.b, P1.t]);
const yRes = d3.scaleLinear([-2.373, 2.6], [P2.b, P2.t]);
const xA = d3.scaleLinear([3, 6], [P3.l, P3.r]);
const yA = d3.scaleLinear([-17.5, -11.5], [P3.b, P3.t]);
const xT = d3.scaleLinear([2.75, 6], [P4.l, P4.r]);
const yT = d3.scaleLinear([-11, -8.5], [P4.b, P4.t]);

function clip(id, P) {
  svg.append("clipPath").attr("id", id).append("rect")
    .attr("x", P.l).attr("y", P.t).attr("width", P.r - P.l).attr("height", P.b - P.t);
}
clip("c1", P1); clip("c2", P2); clip("c3", P3); clip("c4", P4);

function axis(kind, scale, pos, values, size, fmt, labelOff) {
  const gen = {bottom: d3.axisBottom, top: d3.axisTop, left: d3.axisLeft, right: d3.axisRight}[kind](scale)
    .tickValues(values).tickSize(size).tickSizeOuter(0)
    .tickFormat(fmt || (() => ""));
  const horiz = kind === "bottom" || kind === "top";
  const g = svg.append("g")
    .attr("transform", horiz ? `translate(0,${pos})` : `translate(${pos},0)`)
    .call(gen);
  g.attr("font-size", horiz ? 30 : 29).attr("font-family", FONT);
  g.select(".domain").remove();
  g.selectAll(".tick line").attr("stroke", "#000").attr("stroke-width", 2);
  g.selectAll(".tick text").attr("fill", "#000");
  if (kind === "bottom") g.selectAll(".tick text").attr("y", labelOff).attr("dy", 0);
  if (kind === "left") g.selectAll(".tick text").attr("x", -labelOff).attr("dy", "0.36em");
  return g;
}
function frame(P) {
  svg.append("rect").attr("x", P.l).attr("y", P.t).attr("width", P.r - P.l).attr("height", P.b - P.t)
    .attr("fill", "none").attr("stroke", "#000").attr("stroke-width", 1.3);
}
const fInt = d3.format("d");
const f1 = d3.format(".1f");
const xPath = "M-2.4,-2.4L2.4,2.4M-2.4,2.4L2.4,-2.4";

function crosses(g, vals, times, y, cls) {
  g.selectAll("path." + cls).data(vals).join("path").attr("class", cls)
    .attr("transform", (d, i) => `translate(${xTime(times[i])},${y(d)})`)
    .attr("d", xPath).attr("stroke", "#000").attr("stroke-width", 0.9).attr("fill", "none");
}
function blueDots(g, vals, times, cls) {
  g.selectAll("rect." + cls).data(vals).join("rect").attr("class", cls)
    .attr("x", (d, i) => xTime(times[i]) - 1.6).attr("y", d => yTop(d) - 1.6)
    .attr("width", 3.2).attr("height", 3.2).attr("fill", "#1e90ff");
}

// ---- Panel 1: time series ----
frame(P1);
axis("top", xTime, P1.t, mjdMinor, 7);
axis("top", xTime, P1.t, mjdMajor, 14);
axis("bottom", xTime, P1.b, mjdMinor, 6);
axis("bottom", xTime, P1.b, mjdMajor, 13, fInt, 45);
axis("left", yTop, P1.l, nsTicks, 14, fInt, 27);
axis("right", yTop, P1.r, nsTicks, 14);

const g1 = svg.append("g").attr("clip-path", "url(#c1)");
crosses(g1, gpsBlack, mjdA, yTop, "bkA");
crosses(g1, gpsBlackMid, mjdB, yTop, "bkB");
blueDots(g1, gpsBlue, mjdA, "blA");
blueDots(g1, gpsBlueMid, mjdB, "blB");

const leg = svg.append("text").attr("y", 809).attr("font-size", 30).attr("font-weight", "bold")
  .attr("font-family", FONT).style("white-space", "pre");
leg.append("tspan").attr("x", 200).text("_2607_IT16PT13_IT07PT13.PPAA5");
leg.append("tspan").attr("x", 732).text("GPS P3 (x");
leg.append("tspan").attr("font-size", 21).attr("dy", 6).text("black");
leg.append("tspan").attr("dy", -6).text(") ,  GPS P3 (o");
leg.append("tspan").attr("font-size", 21).attr("dy", 6).text("blue");
leg.append("tspan").attr("dy", -6).text(")  2828Ep");

svg.append("text").attr("x", (P1.l + P1.r) / 2).attr("y", 923).attr("text-anchor", "middle")
  .attr("font-size", 30).attr("font-weight", "bold").attr("font-family", FONT).text("Modified Julian Date");
svg.append("text").attr("transform", `translate(97,${(P1.t + P1.b) / 2}) rotate(-90)`)
  .attr("text-anchor", "middle").attr("font-size", 29).attr("font-weight", "bold")
  .attr("font-family", FONT).text("nanosecond");

// ---- Panel 2: residuals ----
frame(P2);
axis("top", xTime, P2.t, mjdMinor, 7);
axis("top", xTime, P2.t, mjdMajor, 14);
axis("bottom", xTime, P2.b, mjdMinor, 6);
axis("bottom", xTime, P2.b, mjdMajor, 13, fInt, 46);
axis("left", yRes, P2.l, resTicks, 14, f1, 27);
axis("right", yRes, P2.r, resTicks, 14);

const g2 = svg.append("g").attr("clip-path", "url(#c2)");
crosses(g2, residuals, mjdA, yRes, "rA");
crosses(g2, residualsMid, mjdB, yRes, "rB");

svg.append("text").attr("x", 202).attr("y", 1382).attr("font-size", 25).attr("font-weight", "bold")
  .attr("font-family", FONT).style("white-space", "pre")
  .text("Max Smoothing Residual: _-1.866__2.100__0.195  Sigma= 0.354ns");
svg.append("text").attr("x", (P2.l + P2.r) / 2).attr("y", 1480).attr("text-anchor", "middle")
  .attr("font-size", 30).attr("font-weight", "bold").attr("font-family", FONT).text("Modified Julian Date");
svg.append("text").attr("transform", `translate(72,${(P2.t + P2.b) / 2}) rotate(-90)`)
  .attr("text-anchor", "middle").attr("font-size", 29).attr("font-weight", "bold")
  .attr("font-family", FONT).text("residuals (ns)");

// ---- Panel 3: Modified Allan deviation ----
frame(P3);
axis("top", xA, P3.t, tauMinor, 7);
axis("top", xA, P3.t, tauMajor, 14);
axis("bottom", xA, P3.b, tauMinor, 6);
axis("bottom", xA, P3.b, tauMajor, 13, fInt, 47);
axis("left", yA, P3.l, adevMinor, 7);
axis("left", yA, P3.l, adevMajor, 13, fInt, 27);
axis("right", yA, P3.r, adevMinor, 7);
axis("right", yA, P3.r, adevMajor, 13);

const g3 = svg.append("g").attr("clip-path", "url(#c3)");
g3.selectAll("circle.m").data(markerLogTau).join("circle").attr("class", "m")
  .attr("cx", d => xA(d)).attr("cy", P3.b).attr("r", 4.5).attr("fill", "#000");
g3.selectAll("circle.d").data(madev).join("circle").attr("class", "d")
  .attr("cx", (d, i) => xA(logTau[i])).attr("cy", d => yA(d)).attr("r", 6.2).attr("fill", "#000");
svg.append("g").selectAll("text").data(madevLabels).join("text")
  .attr("x", (d, i) => Math.max(xA(logTau[i]), P3.l + d.length * 5.8))
  .attr("y", (d, i) => yA(madev[i]) - 8)
  .attr("text-anchor", "middle").attr("font-size", 20).attr("font-weight", "bold")
  .attr("font-family", FONT).attr("fill", "#ff0000").text(d => d);
svg.append("g").selectAll("text").data(markerNames).join("text")
  .attr("x", (d, i) => xA(markerLogTau[i])).attr("y", P3.b - 8)
  .attr("text-anchor", "middle").attr("font-size", 19).attr("font-weight", "bold")
  .attr("font-family", FONT).attr("fill", "#ff0000").text(d => d);
svg.append("text").attr("x", 213).attr("y", 1538).attr("font-size", 16).attr("font-weight", "bold")
  .attr("font-family", FONT).text("\u03C4 = 1038s");

function tauTitle(cx) {
  const t = svg.append("text").attr("x", cx).attr("y", 2037).attr("text-anchor", "middle")
    .attr("font-size", 30).attr("font-weight", "bold").attr("font-family", FONT);
  t.append("tspan").text("Averaging time, log(");
  t.append("tspan").attr("font-weight", "normal").attr("font-family", '"DejaVu Serif",serif').text("\u03C4");
  t.append("tspan").text(") (s)");
}
tauTitle((P3.l + P3.r) / 2);
{
  const t = svg.append("text").attr("transform", `translate(84,${(P3.t + P3.b) / 2}) rotate(-90)`)
    .attr("text-anchor", "middle").attr("font-size", 29).attr("font-weight", "bold").attr("font-family", FONT);
  t.append("tspan").text("Modified Allan Deviation (10");
  t.append("tspan").attr("font-size", 20).attr("dy", -11).text("-15");
  t.append("tspan").attr("dy", 11).text(")");
}

// ---- Panel 4: Time deviation ----
frame(P4);
axis("top", xT, P4.t, tauMinor, 7);
axis("top", xT, P4.t, tauMajor, 14);
axis("bottom", xT, P4.b, tauMinor, 6);
axis("bottom", xT, P4.b, tauMajor, 13, fInt, 47);
axis("left", yT, P4.l, tdevMinor, 7);
axis("left", yT, P4.l, tdevMajor, 13, fInt, 26);
axis("right", yT, P4.r, tdevMinor, 7);
axis("right", yT, P4.r, tdevMajor, 13);

const g4 = svg.append("g").attr("clip-path", "url(#c4)");
g4.selectAll("circle.m").data(markerLogTau).join("circle").attr("class", "m")
  .attr("cx", d => xT(d)).attr("cy", P4.b).attr("r", 6.2).attr("fill", "#000");
g4.selectAll("circle.d").data(tdev).join("circle").attr("class", "d")
  .attr("cx", (d, i) => xT(logTau[i])).attr("cy", d => yT(d)).attr("r", 6.2).attr("fill", "#000");
svg.append("g").selectAll("text").data(tdevLabels).join("text")
  .attr("x", (d, i) => xT(logTau[i])).attr("y", (d, i) => yT(tdev[i]) - 19)
  .attr("text-anchor", "middle").attr("font-size", 17.5).attr("font-weight", "bold")
  .attr("font-family", FONT).attr("fill", "#ff0000").text(d => d);
svg.append("g").selectAll("text").data(markerNames).join("text")
  .attr("x", (d, i) => xT(markerLogTau[i])).attr("y", P4.b - 19)
  .attr("text-anchor", "middle").attr("font-size", 18.5).attr("font-weight", "bold")
  .attr("font-family", FONT).attr("fill", "#ff0000").text(d => d);
tauTitle((P4.l + P4.r) / 2);
{
  const t = svg.append("text").attr("transform", `translate(768,${(P4.t + P4.b) / 2}) rotate(-90)`)
    .attr("text-anchor", "middle").attr("font-size", 29).attr("font-weight", "bold").attr("font-family", FONT);
  t.append("tspan").text("Time deviation (10");
  t.append("tspan").attr("font-size", 20).attr("dy", -11).text("-10");
  t.append("tspan").attr("dy", 11).text(" s)");
}
</script></body></html>
